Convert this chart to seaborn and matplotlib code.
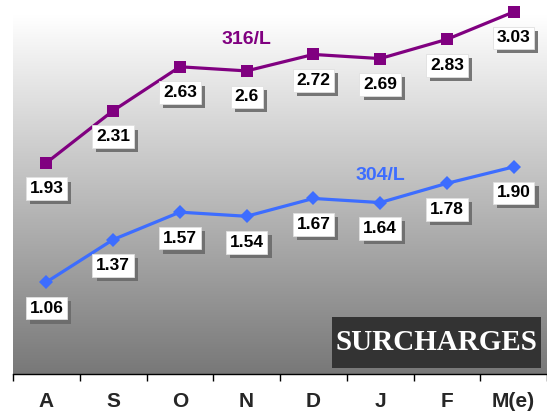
import numpy as np
import pandas as pd
import matplotlib
matplotlib.use("Agg")
import matplotlib.pyplot as plt
import matplotlib.patheffects as pe
from matplotlib.patches import Rectangle
import seaborn as sns

months = ["A", "S", "O", "N", "D", "J", "F", "M(e)"]
s316 = [1.93, 2.31, 2.63, 2.60, 2.72, 2.69, 2.83, 3.03]
s316_labels = ["1.93", "2.31", "2.63", "2.6", "2.72", "2.69", "2.83", "3.03"]
s304 = [1.06, 1.37, 1.57, 1.54, 1.67, 1.64, 1.78, 1.90]
s304_labels = ["1.06", "1.37", "1.57", "1.54", "1.67", "1.64", "1.78", "1.90"]

sns.set_theme(style="white")
plt.rcParams["font.family"] = ["Liberation Sans", "DejaVu Sans"]

W, H = 547, 417
fig = plt.figure(figsize=(W / 100, H / 100), dpi=100)
ax = fig.add_axes([13 / W, (H - 374) / H, (W - 13) / W, 374 / H])

x = np.arange(len(months))
ymin, ymax = 0.39, 3.117
ax.set_xlim(-0.5, len(months) - 0.5)
ax.set_ylim(ymin, ymax)

# gradient background
grad = np.linspace(0.0, 1.0, 256).reshape(-1, 1)
cmap = matplotlib.colors.LinearSegmentedColormap.from_list(
    "g", [(0, "#787878"), (0.96, "#ffffff"), (1, "#ffffff")])
ax.imshow(grad, extent=[-0.5, len(months) - 0.5, ymin, ymax], aspect="auto",
          cmap=cmap, origin="lower", zorder=0)

df316 = pd.DataFrame({"x": x, "v": s316})
df304 = pd.DataFrame({"x": x, "v": s304})
purple = "#800080"
blue = "#3d6dff"
sns.lineplot(data=df316, x="x", y="v", ax=ax, color=purple, marker="s",
             markersize=8, markeredgewidth=0, linewidth=2.3, zorder=3)
sns.lineplot(data=df304, x="x", y="v", ax=ax, color=blue, marker="D",
             markersize=7.5, markeredgewidth=0, linewidth=2.3, zorder=3)

def add_labels(vals, labels):
    for xi, v, lab in zip(x, vals, labels):
        t = ax.annotate(lab, (xi, v), xytext=(0, -26), textcoords="offset pixels",
                        ha="center", va="center", fontsize=12.5, fontweight="bold",
                        color="black", zorder=5,
                        bbox=dict(boxstyle="square,pad=0.22", facecolor="white",
                                  edgecolor="#e0e0e0", linewidth=0.6))
        t.get_bbox_patch().set_path_effects([
            pe.SimplePatchShadow(offset=(3, -3), shadow_rgbFace="#6a6a6a", alpha=0.9),
            pe.Normal()])

add_labels(s316, s316_labels)
add_labels(s304, s304_labels)

ax.text(3.0, 2.83, "316/L", color=purple, fontsize=14, fontweight="bold",
        ha="center", va="center", zorder=4)
ax.text(5.0, 1.84, "304/L", color=blue, fontsize=14, fontweight="bold",
        ha="center", va="center", zorder=4)

# SURCHARGES box
fig.patches.append(Rectangle((332 / W, (H - 368) / H), 209 / W, 51 / H,
                             transform=fig.transFigure, facecolor="#333333",
                             edgecolor="none", zorder=6))
fig.text(436.5 / W, 1 - 343 / H, "SURCHARGES", ha="center", va="center",
         fontsize=21, fontweight="bold", color="white",
         family=["Liberation Serif", "DejaVu Serif"], zorder=7)

# axes styling
for s in ["left", "right", "top"]:
    ax.spines[s].set_visible(False)
ax.spines["bottom"].set_color("black")
ax.spines["bottom"].set_linewidth(1)
ax.set_yticks([])
ax.set_xticks(x)
ax.set_xticklabels(months, fontsize=15, fontweight="bold")
ax.tick_params(axis="x", which="major", length=0, pad=13)
ax.set_xticks(np.arange(-0.5, len(months) + 0.5, 1), minor=True)
ax.tick_params(axis="x", which="minor", length=5, width=1, color="black", bottom=True)
ax.set_xlabel("")
ax.set_ylabel("")

fig.savefig("out.png", dpi=100)
